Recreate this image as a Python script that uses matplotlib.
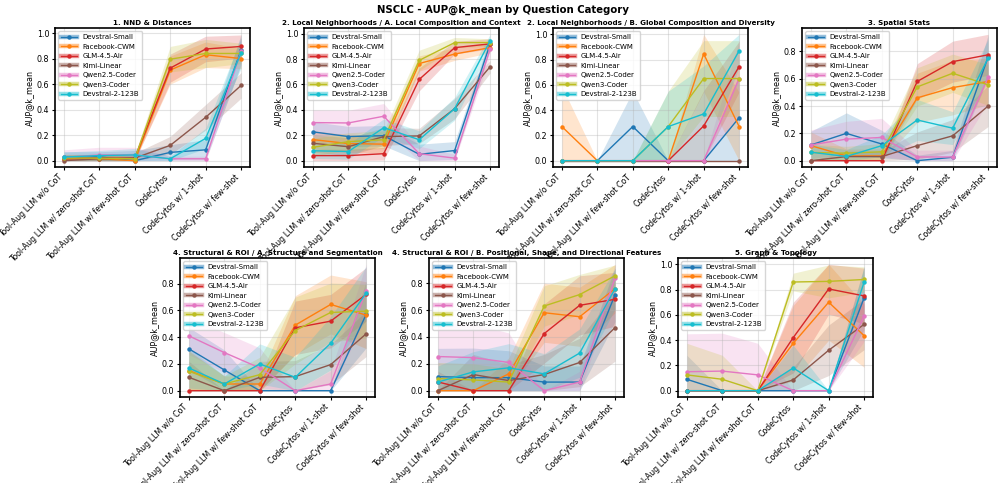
import numpy as np
import matplotlib
matplotlib.use("Agg")
import matplotlib.pyplot as plt
from matplotlib.lines import Line2D

# ── Data ──
conditions = ["Tool-Aug LLM w/o CoT", "Tool-Aug LLM w/ zero-shot CoT",
              "Tool-Aug LLM w/ few-shot CoT", "CodeCytos",
              "CodeCytos w/ 1-shot", "CodeCytos w/ few-shot"]
models = ["Devstral-Small", "Facebook-CWM", "GLM-4.5-Air", "Kimi-Linear",
          "Qwen2.5-Coder", "Qwen3-Coder", "Devstral-2-123B"]
colors = ["#1f77b4", "#ff7f0e", "#d62728", "#8c564b",
          "#e377c2", "#bcbd22", "#17becf"]

titles = ["1. NND & Distances",
          "2. Local Neighborhoods / A. Local Composition and Context",
          "2. Local Neighborhoods / B. Global Composition and Diversity",
          "3. Spatial Stats",
          "4. Structural & ROI / A. Structure and Segmentation",
          "4. Structural & ROI / B. Positional, Shape, and Directional Features",
          "5. Graph & Topology"]

# mean AUP@k per model (rows follow `models`), one list per category
nnd_mean = [[0.03, 0.03, 0.00, 0.065, 0.085, 0.87],
            [0.015, 0.015, 0.00, 0.71, 0.83, 0.80],
            [0.015, 0.02, 0.02, 0.725, 0.875, 0.895],
            [0.00, 0.015, 0.02, 0.12, 0.34, 0.59],
            [0.025, 0.045, 0.045, 0.015, 0.015, 0.86],
            [0.02, 0.02, 0.015, 0.795, 0.84, 0.84],
            [0.028, 0.04, 0.045, 0.015, 0.175, 0.845]]
nnd_err = [[0.04, 0.04, 0.08, 0.06, 0.08, 0.12],
           [0.03, 0.03, 0.03, 0.11, 0.10, 0.08],
           [0.03, 0.03, 0.03, 0.11, 0.10, 0.09],
           [0.02, 0.03, 0.04, 0.07, 0.10, 0.10],
           [0.06, 0.06, 0.06, 0.02, 0.02, 0.10],
           [0.03, 0.03, 0.03, 0.10, 0.11, 0.08],
           [0.04, 0.04, 0.05, 0.02, 0.08, 0.12]]

loc_mean = [[0.227, 0.19, 0.197, 0.05, 0.08, 0.92],
            [0.166, 0.135, 0.13, 0.765, 0.84, 0.89],
            [0.04, 0.04, 0.055, 0.64, 0.89, 0.92],
            [0.137, 0.11, 0.19, 0.195, 0.41, 0.74],
            [0.30, 0.297, 0.35, 0.055, 0.02, 0.88],
            [0.105, 0.15, 0.165, 0.79, 0.93, 0.93],
            [0.078, 0.072, 0.26, 0.165, 0.41, 0.945]]
loc_err = [[0.08, 0.08, 0.08, 0.08, 0.07, 0.05],
           [0.07, 0.07, 0.07, 0.06, 0.05, 0.04],
           [0.05, 0.05, 0.05, 0.09, 0.05, 0.04],
           [0.07, 0.07, 0.07, 0.06, 0.08, 0.05],
           [0.10, 0.10, 0.10, 0.06, 0.03, 0.06],
           [0.07, 0.07, 0.07, 0.08, 0.04, 0.03],
           [0.06, 0.06, 0.07, 0.07, 0.09, 0.05]]

glob_mean = [[0.00, 0.00, 0.27, 0.00, 0.00, 0.34],
             [0.27, 0.00, 0.00, 0.00, 0.845, 0.27],
             [0.00, 0.00, 0.00, 0.00, 0.275, 0.745],
             [0.00, 0.00, 0.00, 0.00, 0.00, 0.00],
             [0.00, 0.00, 0.00, 0.00, 0.00, 0.65],
             [0.00, 0.00, 0.00, 0.27, 0.65, 0.65],
             [0.00, 0.00, 0.00, 0.27, 0.37, 0.87]]
glob_err = [[0.00, 0.00, 0.28, 0.00, 0.00, 0.34],
            [0.32, 0.00, 0.00, 0.00, 0.30, 0.27],
            [0.00, 0.00, 0.00, 0.00, 0.28, 0.20],
            [0.00, 0.00, 0.00, 0.00, 0.00, 0.00],
            [0.00, 0.00, 0.00, 0.00, 0.00, 0.30],
            [0.00, 0.00, 0.00, 0.28, 0.30, 0.30],
            [0.00, 0.00, 0.00, 0.28, 0.38, 0.13]]

spat_mean = [[0.115, 0.20, 0.122, 0.00, 0.025, 0.76],
             [0.11, 0.035, 0.035, 0.46, 0.535, 0.58],
             [0.00, 0.00, 0.00, 0.58, 0.725, 0.775],
             [0.00, 0.03, 0.03, 0.11, 0.182, 0.40],
             [0.115, 0.158, 0.17, 0.027, 0.027, 0.61],
             [0.06, 0.055, 0.065, 0.54, 0.64, 0.555],
             [0.062, 0.031, 0.11, 0.298, 0.238, 0.75]]
spat_err = [[0.10, 0.15, 0.10, 0.04, 0.05, 0.16],
            [0.10, 0.05, 0.05, 0.18, 0.20, 0.17],
            [0.00, 0.00, 0.00, 0.13, 0.15, 0.15],
            [0.00, 0.04, 0.04, 0.10, 0.12, 0.15],
            [0.11, 0.13, 0.14, 0.05, 0.05, 0.18],
            [0.06, 0.05, 0.06, 0.14, 0.14, 0.15],
            [0.06, 0.05, 0.08, 0.15, 0.12, 0.14]]

struct_mean = [[0.313, 0.155, 0.00, 0.00, 0.00, 0.57],
               [0.15, 0.05, 0.05, 0.49, 0.645, 0.565],
               [0.00, 0.00, 0.00, 0.47, 0.52, 0.72],
               [0.10, 0.00, 0.10, 0.105, 0.195, 0.425],
               [0.41, 0.285, 0.17, 0.00, 0.05, 0.745],
               [0.145, 0.05, 0.12, 0.45, 0.585, 0.595],
               [0.17, 0.05, 0.20, 0.10, 0.355, 0.73]]
struct_err = [[0.16, 0.15, 0.00, 0.00, 0.00, 0.25],
              [0.15, 0.06, 0.06, 0.22, 0.22, 0.25],
              [0.00, 0.00, 0.00, 0.20, 0.20, 0.20],
              [0.12, 0.00, 0.12, 0.12, 0.15, 0.17],
              [0.14, 0.15, 0.15, 0.00, 0.10, 0.20],
              [0.15, 0.06, 0.13, 0.25, 0.22, 0.20],
              [0.15, 0.06, 0.15, 0.15, 0.20, 0.20]]

pos_mean = [[0.105, 0.097, 0.097, 0.064, 0.064, 0.715],
            [0.00, 0.00, 0.125, 0.58, 0.55, 0.76],
            [0.065, 0.00, 0.00, 0.425, 0.635, 0.68],
            [0.00, 0.12, 0.075, 0.12, 0.21, 0.47],
            [0.254, 0.246, 0.21, 0.00, 0.064, 0.84],
            [0.09, 0.08, 0.064, 0.63, 0.715, 0.855],
            [0.064, 0.14, 0.17, 0.125, 0.28, 0.76]]
pos_err = [[0.21, 0.22, 0.20, 0.12, 0.12, 0.20],
           [0.00, 0.00, 0.12, 0.22, 0.22, 0.18],
           [0.08, 0.00, 0.00, 0.22, 0.22, 0.20],
           [0.00, 0.15, 0.12, 0.15, 0.18, 0.25],
           [0.25, 0.25, 0.22, 0.00, 0.08, 0.10],
           [0.12, 0.12, 0.10, 0.15, 0.15, 0.08],
           [0.12, 0.15, 0.18, 0.15, 0.18, 0.15]]

graph_mean = [[0.09, 0.00, 0.00, 0.00, 0.00, 0.735],
              [0.00, 0.00, 0.00, 0.375, 0.70, 0.435],
              [0.00, 0.00, 0.00, 0.42, 0.805, 0.75],
              [0.00, 0.00, 0.00, 0.085, 0.32, 0.525],
              [0.15, 0.155, 0.125, 0.00, 0.00, 0.59],
              [0.125, 0.09, 0.00, 0.86, 0.865, 0.88],
              [0.00, 0.00, 0.00, 0.18, 0.00, 0.86]]
graph_err = [[0.19, 0.00, 0.00, 0.00, 0.00, 0.25],
             [0.00, 0.00, 0.00, 0.30, 0.30, 0.25],
             [0.00, 0.00, 0.00, 0.28, 0.20, 0.22],
             [0.00, 0.00, 0.00, 0.10, 0.20, 0.20],
             [0.30, 0.30, 0.25, 0.00, 0.00, 0.20],
             [0.25, 0.19, 0.00, 0.07, 0.13, 0.10],
             [0.00, 0.00, 0.00, 0.18, 0.00, 0.12]]

means = [nnd_mean, loc_mean, glob_mean, spat_mean, struct_mean, pos_mean, graph_mean]
errs = [nnd_err, loc_err, glob_err, spat_err, struct_err, pos_err, graph_err]

# ── Layout ──
W, H = 1006, 483
fig = plt.figure(figsize=(W / 100, H / 100), dpi=100)
ax_w, ax_h = 195 / W, 139 / H
top_b, bot_b = 1 - 167 / H, 1 - 397 / H
lefts = [55, 304, 553, 802, 180, 429, 678]
bottoms = [top_b] * 4 + [bot_b] * 3

x = np.arange(len(conditions))

for i in range(7):
    ax = fig.add_axes([lefts[i] / W, bottoms[i], ax_w, ax_h])
    handles = []
    for m, name in enumerate(models):
        mu = np.array(means[i][m])
        er = np.array(errs[i][m])
        lo = np.clip(mu - er, 0, 1)
        hi = np.clip(mu + er, 0, 1)
        ax.fill_between(x, lo, hi, color=colors[m], alpha=0.2, linewidth=0)
        line, = ax.plot(x, mu, "-o", color=colors[m], linewidth=1.0,
                        markersize=2.2, label=name)
        band = Line2D([], [], color=colors[m], linewidth=3.2, alpha=0.45)
        handles.append((band, line))
    ax.set_xticks(x)
    ax.set_xticklabels(conditions, rotation=45, ha="right", fontsize=5.7)
    ax.tick_params(axis="y", labelsize=5.8, length=2.5, pad=1.5)
    ax.tick_params(axis="x", length=2.5, pad=1.5)
    ax.set_ylabel("AUP@k_mean", fontsize=5.8, labelpad=2)
    ax.set_title(titles[i], fontsize=5.1, fontweight="bold", pad=2.5)
    ax.grid(True, alpha=0.35)
    for s in ax.spines.values():
        s.set_linewidth(1.2)
    ax.legend(handles, models, loc="upper left", fontsize=5.0,
              labelspacing=0.5, handlelength=2.3, borderpad=0.4,
              framealpha=0.8)

fig.suptitle("NSCLC - AUP@k_mean by Question Category", fontsize=7.3,
             fontweight="bold", y=1 - 10 / H, va="center")

plt.savefig("out.png", dpi=100)
